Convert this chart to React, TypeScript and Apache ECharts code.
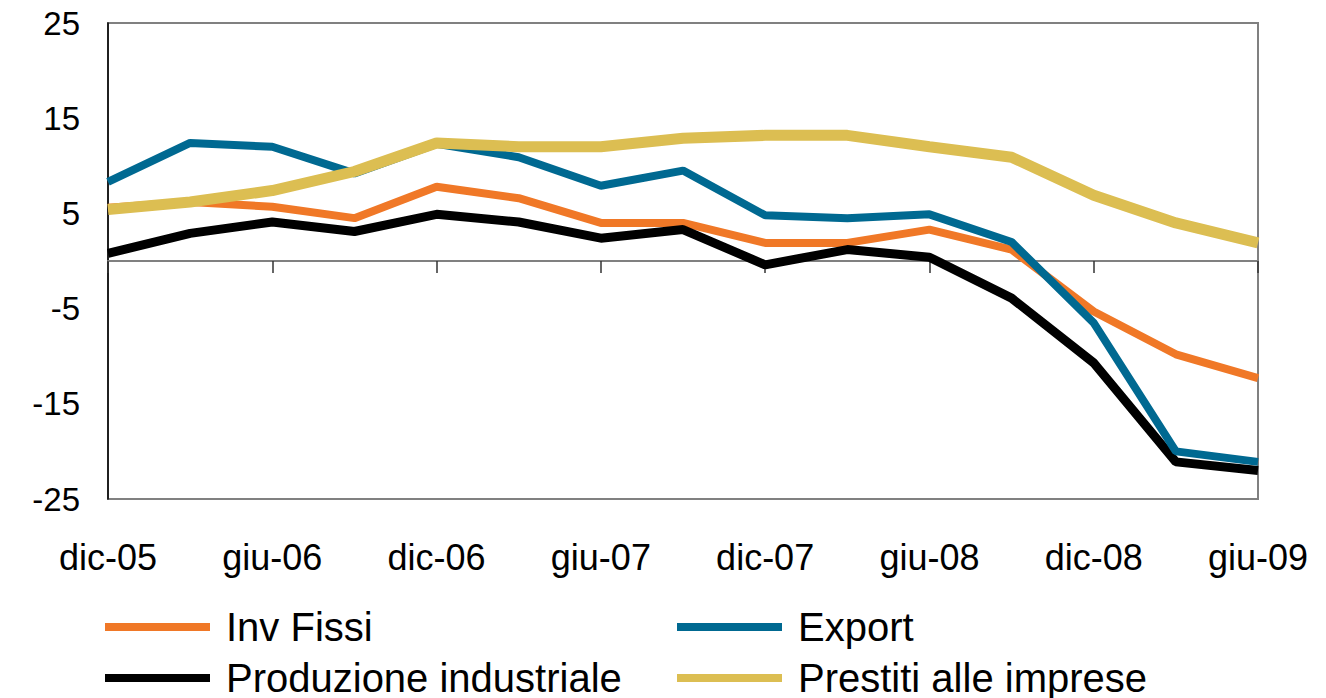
import React, { useEffect, useRef } from "react";
import * as echarts from "echarts";

const categories = [
  "dic-05", "mar-06", "giu-06", "set-06", "dic-06", "mar-07", "giu-07", "set-07",
  "dic-07", "mar-08", "giu-08", "set-08", "dic-08", "mar-09", "giu-09",
];

const invFissi = [5.6, 6.2, 5.7, 4.5, 7.8, 6.6, 4.0, 4.0, 1.9, 1.9, 3.3, 1.2, -5.3, -9.8, -12.3];
const exportSeries = [8.3, 12.4, 12.0, 9.2, 12.3, 10.9, 7.9, 9.5, 4.8, 4.5, 4.9, 2.0, -6.5, -20.0, -21.1];
const produzione = [0.8, 2.9, 4.1, 3.1, 4.9, 4.1, 2.4, 3.3, -0.4, 1.2, 0.4, -3.9, -10.7, -21.1, -22.0];
const prestiti = [5.4, 6.2, 7.4, 9.4, 12.4, 12.0, 12.0, 12.9, 13.2, 13.2, 12.0, 10.9, 6.9, 4.0, 1.9];

const yMin = -25;
const yMax = 25;
const yInterval = 10;

const FONT = "'Liberation Sans', Arial, Helvetica, sans-serif";

export default function App() {
  const ref = useRef<HTMLDivElement>(null);

  useEffect(() => {
    document.body.style.margin = "0";
    if (!ref.current) return;
    const chart = echarts.init(ref.current, undefined, { renderer: "svg" });

    const legendCommon = {
      orient: "vertical" as const,
      icon: "rect",
      itemWidth: 105,
      itemHeight: 8,
      itemGap: 11,
      padding: 0,
      width: 560,
      height: 120,
      selectedMode: false,
      textStyle: {
        fontFamily: FONT,
        fontSize: 40,
        lineHeight: 36,
        color: "#000",
        padding: [0, 0, 0, 11],
      },
    };

    chart.setOption({
      animation: false,
      backgroundColor: "#fff",
      grid: {
        left: 108,
        top: 23,
        right: 68,
        bottom: 199,
        containLabel: false,
        outerBoundsMode: "none",
        show: true,
        borderColor: "#808080",
        borderWidth: 2,
        backgroundColor: "transparent",
      },
      legend: [
        { ...legendCommon, left: 105, top: 607, data: ["Inv Fissi", "Produzione industriale"] },
        { ...legendCommon, left: 677, top: 607, data: ["Export", "Prestiti alle imprese"] },
      ],
      xAxis: {
        type: "category",
        data: categories,
        boundaryGap: false,
        axisLine: { show: true, onZero: true, lineStyle: { color: "#808080", width: 2 } },
        axisTick: { show: true, interval: 1, length: 12, lineStyle: { color: "#333", width: 1.5 } },
        axisLabel: {
          interval: 1,
          margin: 40,
          fontFamily: FONT,
          fontSize: 36,
          color: "#000",
        },
        splitLine: { show: false },
      },
      yAxis: {
        type: "value",
        min: yMin,
        max: yMax,
        interval: yInterval,
        axisLine: { show: true, lineStyle: { color: "#000", width: 1.5 } },
        axisTick: { show: false },
        splitLine: { show: false },
        axisLabel: {
          margin: 28,
          fontFamily: FONT,
          fontSize: 33,
          color: "#000",
        },
      },
      series: [
        {
          name: "Inv Fissi",
          type: "line",
          data: invFissi,
          showSymbol: false,
          symbol: "none",
          color: "#F07827",
          lineStyle: { color: "#F07827", width: 8 },
          z: 2,
        },
        {
          name: "Produzione industriale",
          type: "line",
          data: produzione,
          showSymbol: false,
          symbol: "none",
          color: "#000000",
          lineStyle: { color: "#000000", width: 9 },
          z: 3,
        },
        {
          name: "Export",
          type: "line",
          data: exportSeries,
          showSymbol: false,
          symbol: "none",
          color: "#006991",
          lineStyle: { color: "#006991", width: 8 },
          z: 4,
        },
        {
          name: "Prestiti alle imprese",
          type: "line",
          data: prestiti,
          showSymbol: false,
          symbol: "none",
          color: "#DCBE52",
          lineStyle: { color: "#DCBE52", width: 11 },
          z: 5,
        },
      ],
    });

    return () => chart.dispose();
  }, []);

  return <div ref={ref} style={{ width: 1326, height: 698 }} />;
}
